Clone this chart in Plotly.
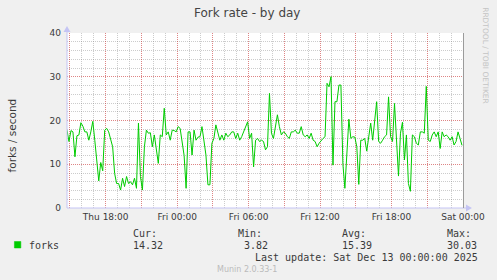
import plotly.graph_objects as go
import pandas as pd

# ---------------- data ----------------
start_time = "2025-12-11 14:45"
sample_step = "10min"

forks = [
    # Thu 14:45 ...
    17.8, 15.2, 17.7, 17.4, 11.7, 16.5, 16.7, 19.5, 18.7, 17.4, 17.4, 15.5, 17.4, 19.8, 15.5,
    11.5, 6.2, 10.4, 8.5, 17.8, 18.2, 17.4, 15.9, 14.0, 7.9, 5.6, 5.6, 4.1, 6.8,
    4.9, 7.2, 5.6, 6.0, 5.3, 6.8, 4.5, 19.4, 7.2, 4.1, 14.0, 17.8, 17.1, 17.2, 14.0, 16.7,
    13.6, 10.2, 16.7, 16.3, 22.8, 16.7, 17.4, 15.5, 17.8, 17.7, 17.4, 18.6,
    18.2, 15.5, 12.0, 4.5, 17.4, 17.4, 12.1, 17.8, 15.5, 16.2, 16.3, 18.6, 15.5, 12.1, 5.3,
    5.3, 14.8, 15.9, 19.0, 17.1, 15.5, 16.7, 15.5, 17.1, 16.3, 16.7, 17.4, 17.4, 15.9,
    17.1, 15.5, 16.3, 17.4, 18.6, 19.7, 15.9, 17.1, 9.4, 15.5, 15.9, 15.2, 15.5, 15.2, 13.3,
    14.0, 26.2, 17.1, 15.9, 18.6, 21.3, 18.6, 16.7, 17.4, 17.1, 16.3, 15.9, 17.4,
    17.4, 17.8, 17.1, 17.1, 18.6, 16.7, 16.3, 16.7, 15.9, 17.1, 15.5, 15.2, 14.0, 14.8, 15.5,
    15.9, 16.3, 28.5, 27.7, 30.03, 9.8, 24.3, 24.3, 28.1, 28.1, 10.0, 4.5, 12.1, 20.3,
    15.9, 16.3, 16.2, 14.0, 5.4, 15.5, 15.5, 15.9, 13.0, 16.3, 19.4, 15.5, 19.7, 24.3, 15.2,
    14.8, 15.5, 16.3, 16.7, 25.4, 16.3, 15.2, 23.9, 14.0, 7.3, 17.1, 19.6, 11.0, 16.7,
    5.6, 3.82, 16.7, 16.3, 14.8, 14.4, 17.4, 17.4, 17.1, 27.8, 15.5, 15.2, 16.7, 17.4, 16.3,
    17.4, 13.6, 17.4, 16.3, 16.7, 16.3, 15.5, 16.3, 14.4, 15.2, 17.4, 15.9, 14.32,
]

x_range = ["2025-12-11 14:45", "2025-12-13 00:00"]
x_major_ticks = ["2025-12-11 15:00", "2025-12-11 18:00", "2025-12-11 21:00",
                 "2025-12-12 00:00", "2025-12-12 03:00", "2025-12-12 06:00",
                 "2025-12-12 09:00", "2025-12-12 12:00", "2025-12-12 15:00",
                 "2025-12-12 18:00", "2025-12-12 21:00", "2025-12-13 00:00"]
x_tick_labels = ["", "Thu 18:00", "", "Fri 00:00", "", "Fri 06:00",
                 "", "Fri 12:00", "", "Fri 18:00", "", "Sat 00:00"]
y_ticks = [0, 10, 20, 30, 40]

title_text = "Fork rate - by day"
y_title = "forks / second"
series_name = "forks"
stat_names = ["Cur:", "Min:", "Avg:", "Max:"]
stat_values = ["14.32", "3.82", "15.39", "30.03"]
last_update = "Last update: Sat Dec 13 00:00:00 2025"
footer = "Munin 2.0.33-1"
side_text = "RRDTOOL / TOBI OETIKER"

times = pd.date_range(start_time, periods=len(forks), freq=sample_step)

# ---------------- geometry helpers (pixel -> paper) ----------------
W, H = 497, 280
PL, PR, PT, PB = 67, 466, 33, 208


def px(x):
    return (x - PL) / (PR - PL)


def py(y):
    return (PB - y) / (PB - PT)


SANS = "DejaVu Sans"
MONO = "DejaVu Sans Mono"
TXT = "#3a3a3a"
LINE_GREEN = "#00CC00"
AXIS_BLUE = "#C4C4F4"
MAJOR_GRID = "rgba(255,0,0,0.35)"
MINOR_GRID = "rgba(128,128,128,0.40)"

fig = go.Figure()
fig.add_trace(go.Scatter(x=times, y=forks, mode="lines",
                         line=dict(color=LINE_GREEN, width=1),
                         name=series_name, hoverinfo="skip"))

fig.update_layout(
    width=W, height=H,
    margin=dict(l=PL, r=W - PR, t=PT, b=H - PB),
    paper_bgcolor="#F0F0F0", plot_bgcolor="#FFFFFF",
    showlegend=False,
    font=dict(family=SANS, size=9, color=TXT),
)

fig.update_xaxes(
    type="date", range=x_range,
    tickmode="array", tickvals=x_major_ticks, ticktext=x_tick_labels,
    showgrid=True, gridcolor=MAJOR_GRID, griddash="1px,1px", gridwidth=1,
    minor=dict(dtick=3600000, tick0="2025-12-11 15:00", showgrid=True,
               gridcolor=MINOR_GRID, griddash="1px,1px", gridwidth=1),
    ticks="", tickfont=dict(family=SANS, size=9, color=TXT),
    showline=False, zeroline=False, ticklabelstandoff=2,
)
fig.update_yaxes(
    range=[0, 40], tickmode="array", tickvals=y_ticks,
    showgrid=True, gridcolor=MAJOR_GRID, griddash="1px,1px", gridwidth=1,
    minor=dict(dtick=2, tick0=0, showgrid=True,
               gridcolor=MINOR_GRID, griddash="1px,1px", gridwidth=1),
    ticks="", tickfont=dict(family=SANS, size=9, color=TXT),
    showline=False, zeroline=False, ticklabelstandoff=5,
)

shapes = []
# axis lines with arrows
shapes.append(dict(type="line", xref="paper", yref="paper", x0=px(PL), x1=px(PL),
                   y0=py(PB), y1=py(29), line=dict(color=AXIS_BLUE, width=1)))
shapes.append(dict(type="line", xref="paper", yref="paper", x0=px(PL), x1=px(471),
                   y0=py(PB), y1=py(PB), line=dict(color=AXIS_BLUE, width=1)))
shapes.append(dict(type="path", xref="paper", yref="paper",
                   path=f"M {px(63.5)} {py(32)} L {px(70.5)} {py(32)} L {px(67)} {py(26)} Z",
                   fillcolor=AXIS_BLUE, line=dict(width=0)))
shapes.append(dict(type="path", xref="paper", yref="paper",
                   path=f"M {px(469)} {py(204.5)} L {px(469)} {py(211.5)} L {px(475)} {py(208)} Z",
                   fillcolor=AXIS_BLUE, line=dict(width=0)))
# right frame line
shapes.append(dict(type="line", xref="paper", yref="paper", x0=px(466.5), x1=px(466.5),
                   y0=py(PB), y1=py(PT), line=dict(color="#9a9a9a", width=1)))
# legend swatch
shapes.append(dict(type="rect", xref="paper", yref="paper",
                   x0=px(14), x1=px(20.5), y0=py(248), y1=py(241.5),
                   fillcolor=LINE_GREEN, line=dict(color=LINE_GREEN, width=0.5)))
fig.update_layout(shapes=shapes)

ann = []


def add_text(text, x, y, size, family, color=TXT, xanchor="left", angle=0):
    ann.append(dict(text=text, xref="paper", yref="paper", x=px(x), y=py(y),
                    xanchor=xanchor, yanchor="middle", showarrow=False,
                    textangle=angle, font=dict(family=family, size=size, color=color)))


add_text(title_text, 248.5, 13, 12, SANS, color="#444444", xanchor="center")
add_text(y_title, 12, 135, 10.5, SANS, xanchor="center", angle=-90)
add_text(side_text, 489, 56, 7.5, SANS, color="#C4C4C4", xanchor="center", angle=90)
add_text(series_name, 26.5, 245, 10, MONO)
stat_x = [131.5, 237.5, 342.5, 447.5]
val_x = [131.5, 243.5, 342.5, 447.5]
for name, val, sx, vx in zip(stat_names, stat_values, stat_x, val_x):
    add_text(name, sx, 233.5, 10, MONO)
    add_text(val, vx, 245, 10, MONO)
add_text(last_update, 483.5, 257, 10, MONO, xanchor="right")
add_text(footer, 248.5, 269, 8, SANS, color="#BBBBBB", xanchor="center")
fig.update_layout(annotations=ann)

fig.write_html("out.html")
